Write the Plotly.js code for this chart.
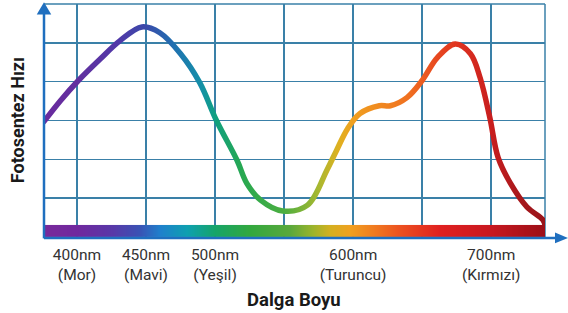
<!DOCTYPE html>
<html>
<head>
<meta charset="utf-8">
<script src="https://cdn.plot.ly/plotly-3.0.1.min.js"></script>
<style>
html,body{margin:0;padding:0;background:#fff;}
#chart{width:568px;height:313px;}
</style>
</head>
<body>
<div id="chart"></div>
<script>
// ---- data ----
const wavelengthNm = [376, 388, 401, 417, 431, 447, 460, 475, 489, 501, 516, 523, 533, 549, 567, 581, 588, 596, 605, 619, 627, 639, 650, 661, 674, 685, 692, 699, 705, 714, 726, 737.5, 739];
const photosynthesisRate = [2.97, 3.51, 4.03, 4.59, 5.05, 5.41, 5.26, 4.72, 3.97, 3.00, 1.97, 1.38, 0.95, 0.67, 0.82, 1.72, 2.23, 2.79, 3.18, 3.38, 3.38, 3.59, 4.03, 4.62, 4.97, 4.72, 4.10, 3.08, 2.05, 1.38, 0.77, 0.44, 0.31];

const tickNm = [400, 450, 500, 550, 600, 650, 700];
const tickLabels = ["400nm<br>(Mor)", "450nm<br>(Mavi)", "500nm<br>(Yeşil)", "", "600nm<br>(Turuncu)", "", "700nm<br>(Kırmızı)"];

// spectrum bar colour stops (wavelength -> colour)
const barStopNm = [370, 400, 425, 445, 460, 480, 500, 525, 554, 570, 583, 598, 615, 634, 663, 699, 735, 745];
const barColors = ["#7a2a9a", "#70289e", "#5838a8", "#3a52b4", "#1f80cc", "#0ea0b0", "#16a468", "#32a83e", "#5aa83c", "#9ab42c", "#d4b020", "#f0a020", "#f07a20", "#ec5020", "#e02020", "#c81820", "#a01018", "#98101a"];

// curve colour stops (wavelength -> colour)
const curveStopNm = [376, 400, 430, 450, 470, 490, 500, 520, 550, 575, 590, 600, 620, 640, 660, 675, 700, 720, 740];
const curveColors = ["#6a2a9e", "#62309f", "#5038a8", "#3a4aaa", "#2070b0", "#1490a8", "#10a080", "#28a850", "#4cae40", "#a8b830", "#e0b020", "#f0a020", "#f08820", "#f07020", "#e84a20", "#e03420", "#c81e1e", "#a8181c", "#98141a"];

const xRange = [376.1, 739.0];
const yRange = [0, 6];
const barTop = 0.31;

const gridColor = "#3a80a8";
const axisColor = "#1f6fbf";

const zMin = barStopNm[0], zMax = barStopNm[barStopNm.length - 1];
const colorscale = barStopNm.map((nm, i) => [(nm - zMin) / (zMax - zMin), barColors[i]]);

const traces = [
  {
    type: "heatmap",
    x: barStopNm,
    y: [barTop * 0.25, barTop * 0.75],
    z: [barStopNm, barStopNm],
    zmin: zMin, zmax: zMax,
    colorscale: colorscale,
    zsmooth: "best",
    showscale: false,
    hoverinfo: "skip"
  },
  {
    type: "scatter",
    mode: "lines",
    x: wavelengthNm,
    y: photosynthesisRate,
    line: {shape: "spline", smoothing: 1, width: 5.5, color: "#e02222"},
    hoverinfo: "skip"
  }
];

const layout = {
  width: 568, height: 313,
  margin: {l: 44, r: 23, t: 4, b: 76},
  paper_bgcolor: "#ffffff",
  plot_bgcolor: "#ffffff",
  showlegend: false,
  font: {family: "Roboto, Arial, sans-serif", color: "#333333"},
  xaxis: {
    range: xRange,
    tickmode: "array",
    tickvals: tickNm,
    ticktext: tickLabels,
    ticks: "",
    showgrid: true,
    gridcolor: gridColor,
    gridwidth: 1.5,
    zeroline: false,
    showline: false,
    tickfont: {family: "Roboto, Arial, sans-serif", size: 15.5, color: "#333333"},
    ticklabelstandoff: 6,
    fixedrange: true
  },
  yaxis: {
    range: yRange,
    dtick: 1,
    showticklabels: false,
    ticks: "",
    showgrid: true,
    gridcolor: gridColor,
    gridwidth: 1.5,
    zeroline: false,
    showline: false,
    fixedrange: true
  },
  shapes: [
    {type: "line", xref: "paper", yref: "paper", x0: 1, x1: 1, y0: 0, y1: 1, line: {color: gridColor, width: 1.5}, layer: "below"},
    {type: "line", xref: "paper", yref: "paper", x0: 0, x1: 1, y0: 1, y1: 1, line: {color: gridColor, width: 1.5}, layer: "below"},
    // y axis with arrow
    {type: "line", xref: "paper", yref: "paper", x0: 0, x1: 0, y0: -0.006, y1: 0.965, line: {color: axisColor, width: 2.5}},
    {type: "path", xref: "paper", yref: "paper", path: "M -0.0145 0.955 L 0.0145 0.955 L 0 1.008 Z", fillcolor: axisColor, line: {width: 0}},
    // x axis with arrow
    {type: "line", xref: "paper", yref: "paper", x0: 0, x1: 1.025, y0: -0.004, y1: -0.004, line: {color: axisColor, width: 2.5}},
    {type: "path", xref: "paper", yref: "paper", path: "M 1.020 0.019 L 1.020 -0.027 L 1.046 -0.004 Z", fillcolor: axisColor, line: {width: 0}}
  ],
  annotations: [
    {text: "<b>Dalga Boyu</b>", xref: "paper", yref: "paper", x: 0.499, y: -0.27, xanchor: "center", yanchor: "middle", showarrow: false,
     font: {family: "Roboto, Arial, sans-serif", size: 18.5, color: "#1a1a1a"}},
    {text: "<b>Fotosentez Hızı</b>", xref: "paper", yref: "paper", x: -0.0465, y: 0.50, xanchor: "center", yanchor: "middle", textangle: -90, showarrow: false,
     xshift: -3, font: {family: "Roboto, Arial, sans-serif", size: 18, color: "#1a1a1a"}}
  ]
};

Plotly.newPlot("chart", traces, layout, {staticPlot: true, displayModeBar: false}).then(function (gd) {
  // colour the curve by wavelength with a horizontal gradient, in the path's own user space
  const path = gd.querySelector(".scatterlayer .trace path.js-line");
  if (!path) return;
  const bb = path.getBBox();
  const xFirst = Math.min.apply(null, wavelengthNm), xLast = Math.max.apply(null, wavelengthNm);
  const toPx = nm => bb.x + (nm - xFirst) / (xLast - xFirst) * bb.width;
  const svg = gd.querySelector(".main-svg");
  const ns = "http://www.w3.org/2000/svg";
  let defs = svg.querySelector("defs");
  if (!defs) { defs = document.createElementNS(ns, "defs"); svg.insertBefore(defs, svg.firstChild); }
  const grad = document.createElementNS(ns, "linearGradient");
  grad.setAttribute("id", "spectrumGrad");
  grad.setAttribute("gradientUnits", "userSpaceOnUse");
  const c0 = curveStopNm[0], c1 = curveStopNm[curveStopNm.length - 1];
  grad.setAttribute("x1", toPx(c0));
  grad.setAttribute("x2", toPx(c1));
  grad.setAttribute("y1", 0);
  grad.setAttribute("y2", 0);
  curveStopNm.forEach(function (nm, i) {
    const s = document.createElementNS(ns, "stop");
    s.setAttribute("offset", (nm - c0) / (c1 - c0));
    s.setAttribute("stop-color", curveColors[i]);
    grad.appendChild(s);
  });
  defs.appendChild(grad);
  path.style.stroke = "url(#spectrumGrad)";
  path.style.strokeLinecap = "round";
});
</script>
</body>
</html>
